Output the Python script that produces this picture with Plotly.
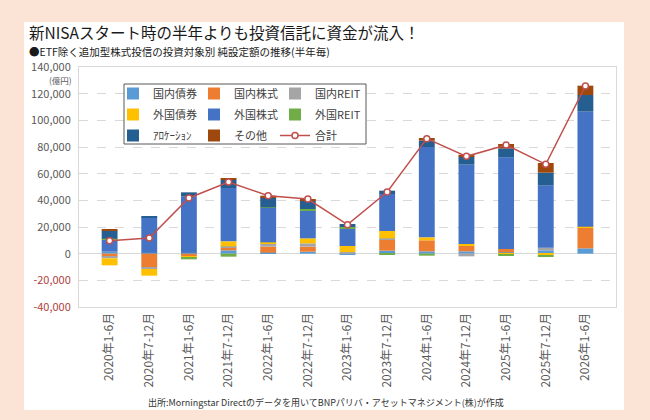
import plotly.graph_objects as go

categories = ["2020年1-6月", "2020年7-12月", "2021年1-6月", "2021年7-12月", "2022年1-6月",
              "2022年7-12月", "2023年1-6月", "2023年7-12月", "2024年1-6月", "2024年7-12月",
              "2025年1-6月", "2025年7-12月", "2026年1-6月"]

dom_bond = [1500, 750, 750, 2500, 750, 1500, -1000, 2250, 1750, 1750, 1000, 2500, 4000]
dom_equity = [-2250, -10500, -1750, 2000, 4500, 3750, 0, 8250, 8250, 4250, 2500, 0, 15250]
dom_reit = [-1250, -1000, 0, 1000, 2500, 2500, 1250, 1000, 0, -2000, 0, 2000, 0]
for_bond = [-5250, -5000, -1250, 3750, 750, 3750, 4500, 5500, 2250, 1250, -750, -1000, 1000]
for_equity = [8750, 26500, 42000, 40000, 25750, 20750, 13250, 27750, 67750, 59500, 68750, 46750, 86250]
for_reit = [1000, 0, -1250, -2250, 500, 1250, 1000, -1000, -1500, 0, -750, -1250, 0]
allocation = [6000, 1000, 3250, 6250, 7500, 6250, 2250, 2500, 4750, 6250, 6750, 9500, 12500]
other = [1000, 0, 0, 1250, 1250, 1000, 0, 0, 2000, 1250, 3250, 7250, 7000]
total = [9750, 11750, 41750, 53750, 43500, 41000, 21750, 46250, 86250, 73000, 81500, 67000, 125750]

ytick_vals = [140000, 120000, 100000, 80000, 60000, 40000, 20000, 0, -20000, -40000]
ytick_text = ["140,000", "120,000", "100,000", "80,000", "60,000", "40,000", "20,000", "0",
              "-20,000", "-40,000"]

FONT = "Noto Sans CJK JP"
W, H = 650, 420
L, R, T, B = 79, 34, 67, 113
PW, PH = W - L - R, H - T - B


def px_x(px):
    return (px - L) / PW


def px_y(py):
    return (H - B - py) / PH


series = [
    ("国内債券", dom_bond, "#5B9BD5", "legend"),
    ("国内株式", dom_equity, "#ED7D31", "legend2"),
    ("国内REIT", dom_reit, "#A5A5A5", "legend3"),
    ("外国債券", for_bond, "#FFC000", "legend"),
    ("外国株式", for_equity, "#4472C4", "legend2"),
    ("外国REIT", for_reit, "#70AD47", "legend3"),
    ("ｱﾛｹｰｼｮﾝ", allocation, "#255E91", "legend"),
    ("その他", other, "#9E480E", "legend2"),
]

fig = go.Figure()
for name, vals, color, lg in series:
    fig.add_trace(go.Bar(x=categories, y=vals, name=name, marker=dict(color=color, line=dict(width=0)),
                         legend=lg, legendgroup=name))

fig.add_trace(go.Scatter(x=categories, y=total, name="合計", mode="lines+markers",
                         line=dict(color="#C0504D", width=1.5),
                         marker=dict(symbol="circle", size=6, color="white",
                                     line=dict(color="#C0504D", width=1.5)),
                         legend="legend3", legendgroup="合計"))

tick_colors = ["#595959" if v >= 0 else "#B0413E" for v in ytick_vals]
ticktext = [f'<span style="color:{c}">{t}</span>' for t, c in zip(ytick_text, tick_colors)]

legend_common = dict(font=dict(family=FONT, size=11, color="#404040"), bgcolor="rgba(0,0,0,0)",
                     orientation="v", xanchor="left", yanchor="top", itemwidth=30,
                     tracegroupgap=2, borderwidth=0)

LEG_TOP = 79

fig.update_layout(
    width=W, height=H,
    margin=dict(l=L, r=R, t=T, b=B),
    paper_bgcolor="#FBE4D6",
    plot_bgcolor="white",
    barmode="relative",
    bargap=0.6,
    font=dict(family=FONT, color="#404040"),
    xaxis=dict(tickangle=-90, tickfont=dict(family=FONT, size=12, color="#595959"),
               showline=True, mirror=True, linecolor="#D9D9D9", linewidth=1,
               showgrid=False, ticks=""),
    yaxis=dict(range=[-40000, 140000], tickvals=ytick_vals, ticktext=ticktext,
               tickfont=dict(family=FONT, size=11, color="#595959"),
               showline=True, mirror=True, linecolor="#D9D9D9", linewidth=1,
               showgrid=True, gridcolor="#D9D9D9", griddash="dash", gridwidth=1,
               zeroline=True, zerolinecolor="#D9D9D9", zerolinewidth=1,
               ticks="", ticklabelstandoff=5),
    legend=dict(x=px_x(113), y=px_y(LEG_TOP), **legend_common),
    legend2=dict(x=px_x(194), y=px_y(LEG_TOP), **legend_common),
    legend3=dict(x=px_x(275), y=px_y(LEG_TOP), **legend_common),
    showlegend=True,
)

# white panel
fig.add_shape(type="rect", xref="paper", yref="paper", x0=px_x(24), x1=px_x(624),
              y0=px_y(410), y1=px_y(22), fillcolor="white", line=dict(width=0), layer="below")
# legend box
fig.add_shape(type="rect", xref="paper", yref="paper", x0=px_x(124), x1=px_x(366),
              y0=px_y(144), y1=px_y(84), fillcolor="white",
              line=dict(color="#595959", width=1), layer="above")

fig.add_annotation(text="新NISAスタート時の半年よりも投資信託に資金が流入！", xref="paper", yref="paper",
                   x=px_x(27), y=px_y(32), xanchor="left", yanchor="middle", showarrow=False,
                   font=dict(family=FONT, size=15.5, color="#1A1A1A"))
fig.add_annotation(text="●ETF除く追加型株式投信の投資対象別 純設定額の推移(半年毎)", xref="paper", yref="paper",
                   x=px_x(27), y=px_y(51), xanchor="left", yanchor="middle", showarrow=False,
                   font=dict(family=FONT, size=10.5, color="#1A1A1A"))
fig.add_annotation(text="(億円)", xref="paper", yref="paper",
                   x=px_x(74), y=px_y(80), xanchor="right", yanchor="middle", showarrow=False,
                   font=dict(family=FONT, size=8.5, color="#595959"))
fig.add_annotation(text="出所:Morningstar Directのデータを用いてBNPパリバ・アセットマネジメント(株)が作成",
                   xref="paper", yref="paper", x=px_x(326), y=px_y(402), xanchor="center",
                   yanchor="middle", showarrow=False, font=dict(family=FONT, size=9, color="#333333"))

fig.write_html("out.html")
